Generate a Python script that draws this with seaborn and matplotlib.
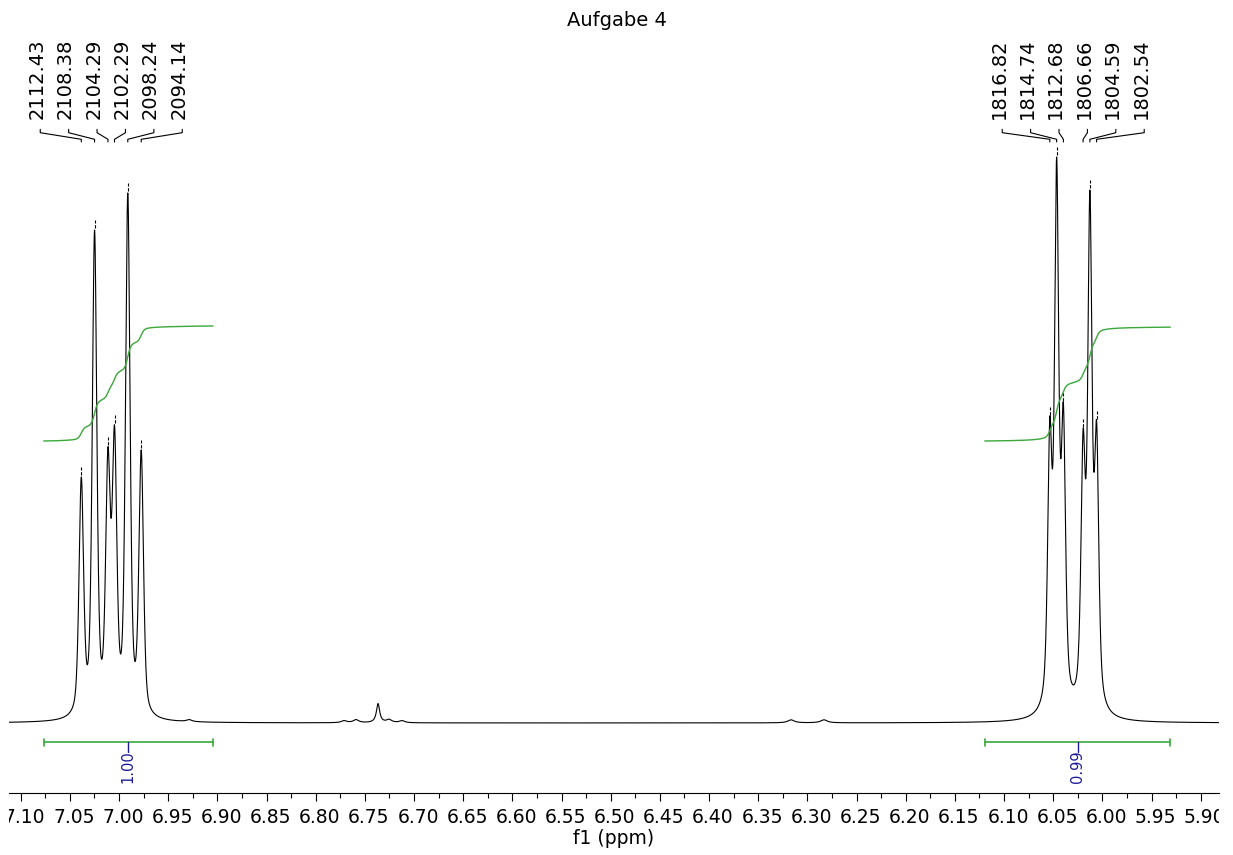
import numpy as np
import pandas as pd
import matplotlib
matplotlib.use("Agg")
import matplotlib.pyplot as plt
import matplotlib.transforms as mtransforms
import seaborn as sns

# ---------------- data ----------------
title = "Aufgabe 4"
x_label = "f1 (ppm)"
spectrometer_mhz = 300.13

x_ticks = [7.10, 7.05, 7.00, 6.95, 6.90, 6.85, 6.80, 6.75, 6.70, 6.65, 6.60, 6.55,
           6.50, 6.45, 6.40, 6.35, 6.30, 6.25, 6.20, 6.15, 6.10, 6.05, 6.00, 5.95, 5.90]

peaks_left_hz = [2112.43, 2108.38, 2104.29, 2102.29, 2098.24, 2094.14]
peaks_left_height = [246, 493, 276, 298, 530, 273]
peaks_right_hz = [1816.82, 1814.74, 1812.68, 1806.66, 1804.59, 1802.54]
peaks_right_height = [306, 566, 320, 294, 533, 302]

minor_ppm = [6.9287, 6.7712, 6.7590, 6.7366, 6.7254, 6.7122, 6.3166, 6.2831]
minor_height = [2, 2, 3, 19, 3, 2, 3, 3]

integral_from = [7.0766, 6.1196]
integral_to = [6.9044, 5.9309]
integral_values = [1.00, 0.99]

# line-shape parameters (Hz half width, Lorentzian fraction)
LEFT_HWHM, LEFT_ETA = 0.82, 0.5
RIGHT_HWHM, RIGHT_ETA = 0.78, 0.62
MINOR_HWHM = [1.0, 1.0, 1.0, 0.6, 1.0, 1.0, 1.2, 1.2]

# ---------------- layout ----------------
W, H = 1233, 855
XLEFT, XRIGHT = 7.1119, 5.8817
AX_L, AX_R, AX_BOTTOM_PX = 9, 1218.7, 793
YMIN, YMAX = -70, 723
GREEN = "#3aa83a"
NAVY = "#1c1c96"

sns.set_theme(style="white")
plt.rcParams["font.family"] = ["DejaVu Sans"]

fig = plt.figure(figsize=(W / 100, H / 100), dpi=100)
ax = fig.add_axes([AX_L / W, (H - AX_BOTTOM_PX) / H, (AX_R - AX_L) / W, AX_BOTTOM_PX / H])


def pv(x, x0, hw, eta):
    d = (x - x0) / hw
    return eta / (1 + d ** 2) + (1 - eta) * np.exp(-np.log(2) * d ** 2)


ppm = np.linspace(XLEFT, XRIGHT, 24000)
hz = ppm * spectrometer_mhz

all_hz = np.array(peaks_left_hz + peaks_right_hz)
all_h = np.array(peaks_left_height + peaks_right_height, dtype=float)
hw = np.array([LEFT_HWHM] * 6 + [RIGHT_HWHM] * 6)
eta = np.array([LEFT_ETA] * 6 + [RIGHT_ETA] * 6)
M = pv(all_hz[:, None], all_hz[None, :], hw[None, :], eta[None, :])
amps = np.linalg.solve(M, all_h)

spec = np.zeros_like(hz)
for a, c, w, e in zip(amps, all_hz, hw, eta):
    spec += a * pv(hz, c, w, e)
for p, h, w in zip(minor_ppm, minor_height, MINOR_HWHM):
    spec += h * pv(hz, p * spectrometer_mhz, w, 1.0)

df = pd.DataFrame({"ppm": ppm, "intensity": spec})
sns.lineplot(data=df, x="ppm", y="intensity", ax=ax, color="black", lw=0.8,
             estimator=None, sort=False)

# integral curves and bars
for lo_hi, value in zip(zip(integral_from, integral_to), integral_values):
    hi, lo = lo_hi
    m = (ppm <= hi) & (ppm >= lo)
    cum = np.cumsum(spec[m])
    cum = cum / cum[-1] * 115 * value
    dfi = pd.DataFrame({"ppm": ppm[m], "integral": 282 + cum})
    sns.lineplot(data=dfi, x="ppm", y="integral", ax=ax, color=GREEN, lw=1.0,
                 estimator=None, sort=False)
    ax.plot([hi, lo], [-19, -19], color=GREEN, lw=1.2)
    ax.plot([hi, hi], [-15.5, -22.5], color=GREEN, lw=1.2)
    ax.plot([lo, lo], [-15.5, -22.5], color=GREEN, lw=1.2)
    mid = (hi + lo) / 2
    ax.plot([mid, mid], [-19, -29], color=NAVY, lw=1.0)
    ax.text(mid, -27, f"{value:.2f}", rotation=90, ha="center", va="top",
            color=NAVY, fontsize=10.5)

# peak labels and connectors
spacing = 0.02888
for group_hz in (peaks_left_hz, peaks_right_hz):
    gp = np.array(group_hz) / spectrometer_mhz
    center = (gp[0] + gp[-1]) / 2
    for i, (f, p) in enumerate(zip(group_hz, gp)):
        cx = center + (2.5 - i) * spacing
        ax.plot([cx, cx, p, p], [593.7, 590.3, 583.7, 581.0], color="black", lw=0.8)
        ax.text(cx + 0.0033, 604, f"{f:.2f}", rotation=90, ha="center", va="bottom",
                fontsize=14, color="black")
        apex = np.interp(-p, -ppm, spec)
        ax.plot([p, p], [apex + 2, apex + 10], color="black", lw=0.8,
                linestyle=(0, (3, 1.5)))

minor_ticks = [t - 0.025 for t in x_ticks if XRIGHT <= t - 0.025 <= XLEFT]
ax.set_xticks(x_ticks)
ax.set_xticklabels([f"{t:.2f}" for t in x_ticks], fontsize=13.5)
ax.set_xticks(minor_ticks, minor=True)
ax.set_xlim(XLEFT, XRIGHT)
ax.set_ylim(YMIN, YMAX)
ax.tick_params(axis="x", which="major", direction="out", length=6, width=0.8,
               color="black", pad=5, bottom=True, labelcolor="black")
ax.tick_params(axis="x", which="minor", direction="out", length=3.5, width=0.8,
               color="black", bottom=True)
ax.set_yticks([])
ax.set_xlabel(x_label, fontsize=13.5, labelpad=1, color="black")
ax.set_ylabel("")
for s in ("left", "right", "top"):
    ax.spines[s].set_visible(False)
ax.spines["bottom"].set_color("black")
ax.spines["bottom"].set_linewidth(0.8)
ax.set_facecolor("white")

clip = mtransforms.TransformedBbox(
    mtransforms.Bbox([[AX_L / W, 0], [AX_R / W, 1]]), fig.transFigure)
shift = mtransforms.ScaledTranslation(4 / 100, 0, fig.dpi_scale_trans)
for lab in ax.get_xticklabels():
    lab.set_transform(lab.get_transform() + shift)
    lab.set_clip_box(clip)
    lab.set_clip_on(True)

fig.text(0.5, 1 - 20 / H, title, ha="center", va="center", fontsize=14, color="black")

fig.savefig("out.png", dpi=100, facecolor="white")
